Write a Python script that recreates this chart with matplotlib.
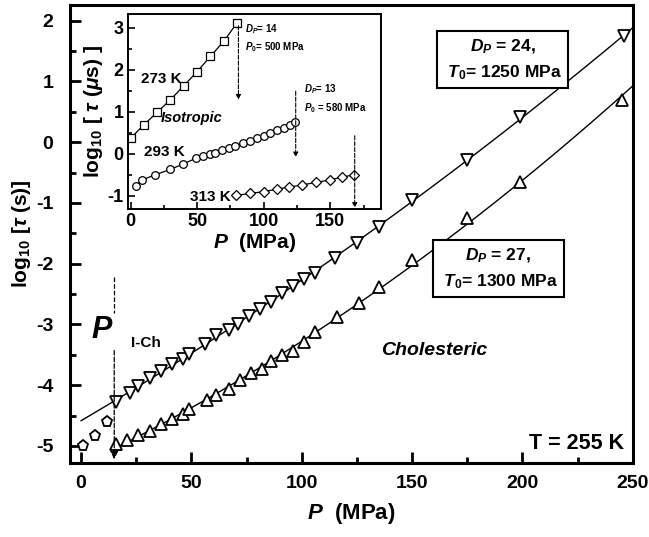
import numpy as np
import matplotlib
matplotlib.use("Agg")
import matplotlib.pyplot as plt
from matplotlib.ticker import MultipleLocator

plt.rcParams['font.family'] = ['Liberation Sans', 'DejaVu Sans']
plt.rcParams['font.weight'] = 'bold'
plt.rcParams['axes.labelweight'] = 'bold'
plt.rcParams['axes.unicode_minus'] = False
plt.rcParams['mathtext.fontset'] = 'custom'
plt.rcParams['mathtext.rm'] = 'Liberation Sans:bold'
plt.rcParams['mathtext.bf'] = 'Liberation Sans:bold'
plt.rcParams['mathtext.it'] = 'Liberation Sans:bold:italic'

# main plot, T = 255 K
p_iso = [0.8, 6.3, 11.6]
tau_iso = [-5.00, -4.83, -4.61]

p_down = [16, 22, 26, 31, 36, 41, 46, 49, 56, 61, 67, 71, 76, 81, 86, 91, 96,
          101, 106, 115, 125, 135, 150, 175, 199, 246]
tau_down = [-4.28, -4.13, -4.01, -3.89, -3.77, -3.65, -3.57, -3.48, -3.33, -3.18,
            -3.09, -2.99, -2.87, -2.74, -2.63, -2.49, -2.37, -2.25, -2.15, -1.90,
            -1.66, -1.40, -0.95, -0.29, 0.42, 1.74]

p_up = [16, 21, 26, 31, 36, 41, 46, 49, 57, 61, 67, 72, 77, 82, 86, 91, 96,
        101, 106, 116, 126, 135, 150, 175, 199, 245]
tau_up = [-4.97, -4.91, -4.82, -4.75, -4.64, -4.56, -4.47, -4.39, -4.24, -4.17,
          -4.06, -3.92, -3.80, -3.73, -3.61, -3.51, -3.43, -3.29, -3.13, -2.88,
          -2.65, -2.39, -1.94, -1.25, -0.66, 0.70]

p_ich = 15

# inset: isotropic phase
p_273 = [0, 10, 20, 30, 40, 50, 60, 70, 80]
tau_273 = [0.37, 0.69, 0.99, 1.29, 1.62, 1.96, 2.32, 2.68, 3.12]

p_293 = [3.75, 8.8, 18.3, 30, 39.5, 49.5, 54.5, 59.5, 63.7, 68.7, 73.7, 78.8,
         84.5, 90, 95, 100, 105, 110, 115, 119.5, 123.8]
tau_293 = [-0.76, -0.62, -0.50, -0.37, -0.24, -0.10, -0.05, 0.00, 0.03, 0.10,
           0.14, 0.19, 0.25, 0.31, 0.37, 0.43, 0.49, 0.56, 0.61, 0.69, 0.77]

p_313 = [79, 90, 100, 110, 119, 129, 139, 150, 159, 168]
tau_313 = [-0.99, -0.94, -0.90, -0.84, -0.79, -0.74, -0.68, -0.62, -0.55, -0.50]

fig = plt.figure(figsize=(6.49, 5.37), dpi=100)
ax = fig.add_axes([0.108, 0.138, 0.867, 0.853])

# fitted curves
c1 = np.polyfit(p_down, tau_down, 2)
xx1 = np.linspace(0, 250, 200)
ax.plot(xx1, np.polyval(c1, xx1), 'k-', lw=1)
c2 = np.polyfit(p_up, tau_up, 2)
xx2 = np.linspace(15, 250, 200)
ax.plot(xx2, np.polyval(c2, xx2), 'k-', lw=1)

mk = dict(ls='none', mfc='white', mec='black', mew=1.3, ms=8)
ax.plot(p_iso, tau_iso, marker='p', **mk)
ax.plot(p_down, tau_down, marker='v', **mk)
ax.plot(p_up, tau_up, marker='^', **mk)

# P_I-Ch marker line
ax.plot([p_ich, p_ich], [-2.22, -2.82], 'k--', lw=0.9)
ax.annotate('', xy=(p_ich, -5.22), xytext=(p_ich, -3.43),
            arrowprops=dict(arrowstyle='-|>', ls='--', lw=0.9, color='black',
                            mutation_scale=12, shrinkA=0, shrinkB=0))
ax.text(9.5, -3.1, '$P$', fontsize=22, ha='center', va='center')
ax.text(22.6, -3.3, 'I-Ch', fontsize=11, ha='left', va='center')

box = dict(boxstyle='square,pad=0.35', fc='white', ec='black', lw=1.5)
ax.text(191, 1.36, '$D_P$ = 24,\n $T_0$= 1250 MPa', fontsize=12.5, ha='center',
        va='center', bbox=box, linespacing=1.5)
ax.text(189, -2.08, '$D_P$ = 27,\n $T_0$= 1300 MPa', fontsize=12.5, ha='center',
        va='center', bbox=box, linespacing=1.5)
ax.text(160, -3.43, 'Cholesteric', fontsize=14, style='italic', ha='center', va='center')
ax.text(246, -4.96, 'T = 255 K', fontsize=15.5, ha='right', va='center')

ax.set_xlim(-5, 250)
ax.set_ylim(-5.28, 2.26)
ax.xaxis.set_major_locator(MultipleLocator(50))
ax.xaxis.set_minor_locator(MultipleLocator(25))
ax.yaxis.set_major_locator(MultipleLocator(1))
ax.yaxis.set_minor_locator(MultipleLocator(0.5))
ax.tick_params(which='both', direction='in', width=2, labelsize=14)
ax.tick_params(axis='x', pad=9)
ax.tick_params(axis='y', pad=12)
ax.tick_params(which='major', length=8)
ax.tick_params(which='minor', length=4)
for s in ax.spines.values():
    s.set_linewidth(2.2)
ax.set_xlabel('$P$  (MPa)', fontsize=16, labelpad=6)
ax.set_ylabel(r'log$_{10}$ [$\tau$ (s)]', fontsize=15, labelpad=2)

# inset
ins = fig.add_axes([0.197, 0.611, 0.39, 0.363])
ms = dict(mfc='white', mec='black', mew=0.9, ms=5.5, color='black', lw=0.9)
ins.plot(p_273, tau_273, marker='s', **ms)
ins.plot(p_293, tau_293, marker='o', **ms)
ins.plot(p_313, tau_313, marker='D', **dict(ms, ms=4.8))

arr = dict(arrowstyle='-|>', ls='--', lw=0.8, color='black', mutation_scale=7,
           shrinkA=0, shrinkB=0)
ins.annotate('', xy=(81, 1.29), xytext=(81, 3.05), arrowprops=arr)
ins.annotate('', xy=(124, -0.08), xytext=(124, 1.49), arrowprops=arr)
ins.annotate('', xy=(168.3, -1.28), xytext=(168.3, 0.43), arrowprops=arr)

ins.text(86, 2.96, '$D_P$= 14', fontsize=7, va='center')
ins.text(86, 2.53, '$P_0$= 500 MPa', fontsize=7, va='center')
ins.text(130, 1.53, '$D_P$= 13', fontsize=7, va='center')
ins.text(130, 1.10, '$P_0$ = 580 MPa', fontsize=7, va='center')
ins.text(7.5, 1.77, '273 K', fontsize=11, va='center')
ins.text(46, 0.86, 'Isotropic', fontsize=10.5, style='italic', ha='center', va='center')
ins.text(9.75, 0.05, '293 K', fontsize=11, va='center')
ins.text(45, -1.03, '313 K', fontsize=11, va='center')

ins.set_xlim(-2, 188)
ins.set_ylim(-1.31, 3.33)
ins.xaxis.set_major_locator(MultipleLocator(50))
ins.xaxis.set_minor_locator(MultipleLocator(25))
ins.yaxis.set_major_locator(MultipleLocator(1))
ins.yaxis.set_minor_locator(MultipleLocator(0.5))
ins.tick_params(which='both', direction='in', width=1.2, labelsize=13, pad=3)
ins.tick_params(which='major', length=5)
ins.tick_params(which='minor', length=3)
for s in ins.spines.values():
    s.set_linewidth(1.4)
ins.set_xlabel('$P$  (MPa)', fontsize=15, labelpad=1)
ins.set_ylabel(r'log$_{10}$ [ $\tau$ ($\mu$s) ]', fontsize=15, labelpad=2)

fig.savefig('out.png', dpi=100)
